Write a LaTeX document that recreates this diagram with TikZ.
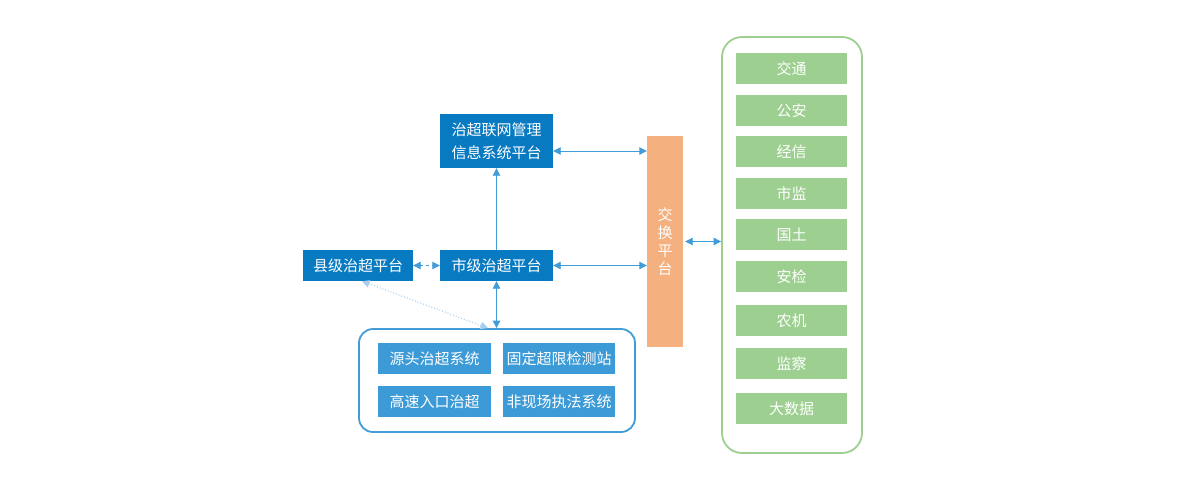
\documentclass[tikz,border=0pt]{standalone}
\usepackage{fontspec}
\setmainfont{Noto Sans CJK SC}
\usetikzlibrary{arrows.meta}
\usetikzlibrary{positioning}
\definecolor{plat-blue}{RGB}{8,122,193}
\definecolor{sys-blue}{RGB}{60,154,214}
\definecolor{link-blue}{RGB}{66,156,216}
\definecolor{dot-blue}{RGB}{168,206,238}
\definecolor{exch-orange}{RGB}{244,176,126}
\definecolor{dept-green}{RGB}{157,208,144}
\tikzset{
  plat/.style={fill=plat-blue, text=white, inner sep=0pt, minimum width=113pt, minimum height=31pt},
  sys/.style={fill=sys-blue, text=white, inner sep=0pt, minimum width=113pt, minimum height=31pt},
  dept/.style={fill=dept-green, text=white, inner sep=0pt, minimum width=111pt, minimum height=31pt},
  link/.style={link-blue, line width=0.9pt, {Triangle[length=7.5pt,width=7.5pt]}-{Triangle[length=7.5pt,width=7.5pt]}},
}

\begin{document}
\begin{tikzpicture}[x=1pt, y=-1pt, font=\fontsize{15}{18}\selectfont]
                \useasboundingbox (0,0) rectangle (1191,485);
                \node[plat, minimum height=54pt, align=center, font=\fontsize{15}{23}\selectfont] (mgmt) at (496.5,141) {治超联网管理\\信息系统平台};
                \node[plat] (city) at (496.5,265.5) {市级治超平台};
                \node[plat, minimum width=110pt] (county) at (358,265.5) {县级治超平台};
                \node[fill=exch-orange, text=white, inner sep=0pt, minimum width=36pt, minimum height=211pt, align=center] (exch) at (665,241.5) {交\\换\\平\\台};
                \node[draw=link-blue, line width=1.8pt, rounded corners=14pt, minimum width=276pt, minimum height=103pt] (grp) at (497,380.5) {};
                \node[sys] (src) at (434.5,358.5) {源头治超系统};
                \node[sys, minimum width=112pt] (fixed) at (559,358.5) {固定超限检测站};
                \node[sys] (hwy) at (434.5,401.5) {高速入口治超};
                \node[sys, minimum width=112pt] (offsite) at (559,401.5) {非现场执法系统};
                \node[draw=dept-green, line width=1.8pt, rounded corners=20pt, minimum width=140pt, minimum height=416pt] (depts) at (792,245) {};
                \node[dept] (traffic) at (791.5,68.5) {交通};
                \node[dept] (police) at (791.5,110.5) {公安};
                \node[dept] (econ) at (791.5,151.5) {经信};
                \node[dept] (market) at (791.5,193.5) {市监};
                \node[dept] (land) at (791.5,234.5) {国土};
                \node[dept] (safety) at (791.5,276.5) {安检};
                \node[dept] (agri) at (791.5,320.5) {农机};
                \node[dept] (superv) at (791.5,363.5) {监察};
                \node[dept] (bigdata) at (791.5,408.5) {大数据};
                \coordinate (m1) at ([yshift=-10pt]mgmt.east);
                \coordinate (d1) at ([xshift=4pt]county.south);
                \coordinate (d2) at ([xshift=-9pt]grp.north);
                \draw[link] (m1) -- (m1 -| exch.west);
                \draw[link] (city.east) -- (city.east -| exch.west);
                \draw[link, dashed] (county.east) -- (city.west);
                \draw[link, {}-{Triangle[length=7.5pt,width=7.5pt]}] (city.north) -- (mgmt.south);
                \draw[link] (city.south) -- (city.south |- grp.north);
                \draw[link, dot-blue, dotted, line width=1.2pt] (d1) -- (d2);
                \draw[link, shorten <=2pt] (exch.east) -- (exch.east -| depts.west);
            \end{tikzpicture}
\end{document}
